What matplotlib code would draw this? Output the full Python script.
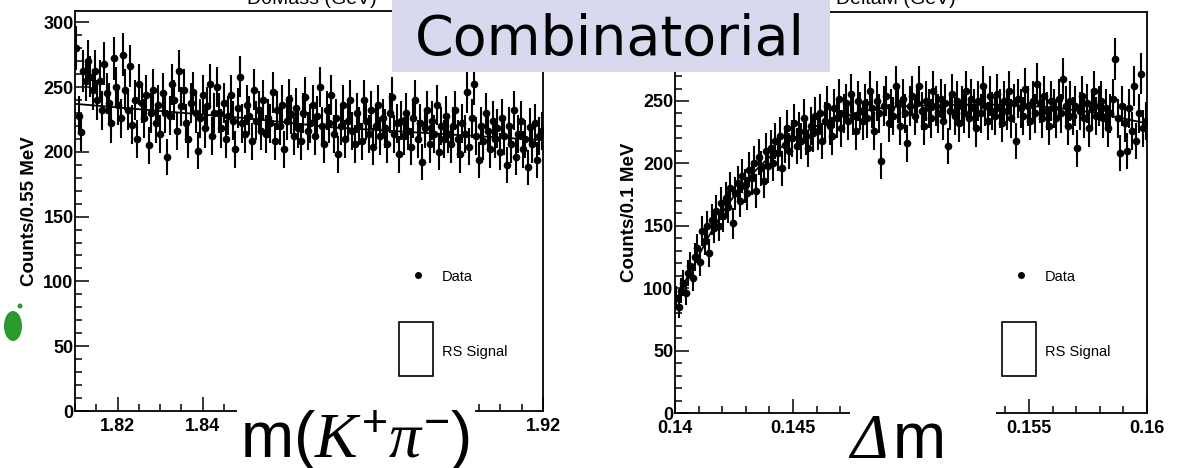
import numpy as np
import matplotlib.pyplot as plt
from matplotlib.patches import Rectangle, Ellipse
from matplotlib.ticker import MultipleLocator, FuncFormatter

plt.rcParams['font.family'] = ['Liberation Sans', 'DejaVu Sans']
plt.rcParams['mathtext.fontset'] = 'custom'
plt.rcParams['mathtext.rm'] = 'Liberation Sans'
plt.rcParams['mathtext.it'] = 'Liberation Serif:italic'

#---------------------------- D0 mass, 200 bins of 0.55 MeV ----------------------------
mass_range = (1.81, 1.92)
mass_counts = [
    280, 228, 215, 262, 255, 270, 258, 248, 262, 240, 255, 232, 268, 245, 238, 222, 272, 250, 236, 226,
    275, 248, 232, 266, 221, 240, 210, 252, 238, 226, 244, 205, 230, 248, 222, 236, 214, 245, 230, 196,
    228, 252, 240, 216, 262, 235, 248, 222, 210, 238, 246, 230, 201, 226, 244, 218, 235, 252, 212, 230,
    250, 230, 218, 238, 210, 228, 244, 224, 202, 234, 258, 222, 214, 236, 228, 208, 248, 224, 232, 216,
    240, 214, 226, 222, 246, 208, 232, 220, 236, 202, 224, 241, 229, 212, 234, 218, 208, 230, 242, 216,
    222, 236, 212, 228, 250, 220, 206, 232, 222, 244, 214, 226, 198, 220, 236, 210, 224, 240, 216, 206,
    230, 220, 208, 240, 224, 214, 232, 204, 220, 236, 212, 226, 218, 206, 230, 242, 214, 222, 198, 224,
    212, 230, 216, 204, 226, 240, 210, 222, 192, 218, 232, 206, 224, 214, 236, 200, 220, 210, 228, 214,
    206, 220, 232, 210, 198, 222, 214, 246, 204, 226, 252, 212, 194, 220, 208, 230, 216, 202, 224, 210,
    218, 200, 226, 212, 190, 220, 206, 232, 196, 214, 224, 202, 210, 188, 219, 206, 222, 194, 212, 216,
]
mass_fit_x = [1.81, 1.85, 1.87, 1.89, 1.92]
mass_fit_y = [237, 226, 219, 215, 209]
mass_xticks = [1.82, 1.84, 1.92]          # labels not hidden under the caption

#---------------------------- delta m, 200 bins of 0.1 MeV ----------------------------
dm_range = (0.14, 0.16)
dm_counts = [
    92, 85, 98, 104, 96, 112, 118, 108, 125, 132, 121, 146, 138, 150, 128, 155, 148, 162, 150, 168,
    158, 172, 165, 180, 152, 176, 184, 170, 190, 182, 176, 195, 188, 200, 178, 205, 196, 186, 210, 198,
    212, 200, 218, 208, 222, 196, 215, 228, 210, 220, 232, 214, 226, 218, 236, 222, 212, 230, 224, 238,
    226, 240, 218, 234, 246, 230, 222, 244, 236, 252, 228, 240, 248, 234, 256, 238, 226, 250, 242, 234,
    248, 236, 258, 244, 226, 250, 240, 202, 246, 254, 232, 244, 238, 262, 248, 230, 252, 240, 216, 246,
    254, 238, 248, 262, 242, 230, 250, 244, 236, 258, 246, 240, 252, 234, 248, 214, 242, 256, 238, 250,
    232, 246, 240, 258, 236, 252, 244, 228, 250, 240, 262, 246, 234, 254, 242, 238, 256, 244, 232, 250,
    242, 258, 236, 248, 218, 252, 244, 238, 260, 246, 234, 250, 240, 264, 248, 236, 254, 242, 230, 250,
    244, 236, 252, 240, 268, 246, 230, 250, 238, 246, 212, 242, 254, 236, 248, 228, 244, 258, 238, 246,
    250, 236, 244, 228, 240, 252, 284, 236, 208, 246, 232, 210, 244, 226, 262, 218, 240, 272, 228, 234,
]
dm_fit_x = [0.1400, 0.1405, 0.1410, 0.1415, 0.1420, 0.1425, 0.1430, 0.1435, 0.1440, 0.1445, 0.1450,
            0.1460, 0.1470, 0.1480, 0.1490, 0.1500, 0.1520, 0.1540, 0.1560, 0.1580, 0.1600]
dm_fit_y = [88, 108, 126, 144, 160, 174, 186, 196, 205, 213, 220,
            230, 237, 242, 245, 246, 247, 247, 245, 240, 232]
dm_xticks = [0.14, 0.145, 0.155, 0.16]

W, H = 1180, 468
fig = plt.figure(figsize=(W / 100, H / 100), dpi=100)


def px_axes(x0, y0, x1, y1, **kw):
    """axes from pixel corners (top-left origin)"""
    return fig.add_axes([x0 / W, 1 - y1 / H, (x1 - x0) / W, (y1 - y0) / H], **kw)


def shown(fmt, keep):
    # blank out tick labels that sit under the slide decorations
    return FuncFormatter(lambda v, p: fmt % v if any(abs(v - k) < 1e-9 for k in keep) else '')


def draw_panel(ax, counts, xr, fit_x, fit_y, ymax, xmaj, xmin, xfmt, xkeep, ykeep, ylabel):
    counts = np.asarray(counts, dtype=float)
    edges = np.linspace(xr[0], xr[1], len(counts) + 1)
    centers = 0.5 * (edges[:-1] + edges[1:])
    ax.errorbar(centers, counts, yerr=np.sqrt(counts), fmt='o', ms=4.5, color='black',
                elinewidth=1.5, capsize=0)
    ax.plot(fit_x, fit_y, color='black', lw=1.3)
    ax.set_xlim(*xr)
    ax.set_ylim(0, ymax)
    ax.xaxis.set_major_locator(MultipleLocator(xmaj))
    ax.xaxis.set_minor_locator(MultipleLocator(xmin))
    ax.xaxis.set_major_formatter(shown(xfmt, xkeep))
    ax.yaxis.set_major_locator(MultipleLocator(50))
    ax.yaxis.set_minor_locator(MultipleLocator(10))
    ax.yaxis.set_major_formatter(shown('%d', ykeep))
    ax.tick_params(which='both', direction='in', top=False, right=False, width=1.1, labelsize=13)
    ax.tick_params(which='major', length=10)
    ax.tick_params(which='minor', length=5)
    ax.tick_params(axis='y', pad=1)
    ax.tick_params(axis='x', pad=5)
    for lab in ax.get_xticklabels() + ax.get_yticklabels():
        lab.set_fontweight('bold')
    for s in ax.spines.values():
        s.set_linewidth(1.3)
    ax.set_ylabel(ylabel, fontsize=13.5, fontweight='bold', labelpad=4)


ax1 = px_axes(75, 11, 543, 411)
draw_panel(ax1, mass_counts, mass_range, mass_fit_x, mass_fit_y, 400 / 1.296,
           0.02, 0.005, '%.2f', mass_xticks, [0, 50, 100, 150, 200, 250, 300], 'Counts/0.55 MeV')
ax2 = px_axes(675, 12, 1147, 413)
draw_panel(ax2, dm_counts, dm_range, dm_fit_x, dm_fit_y, 401 / 1.248,
           0.005, 0.001, '%g', dm_xticks, [0, 50, 100, 150, 200, 250], 'Counts/0.1 MeV')

# overlay in pixel coordinates for the slide decorations
ov = fig.add_axes([0, 0, 1, 1], zorder=10)
ov.set_xlim(0, W)
ov.set_ylim(H, 0)
ov.axis('off')
ov.patch.set_alpha(0)

# axis titles cut off at the top edge
ov.text(312, -1, 'D0Mass (GeV)', ha='center', va='center', fontsize=14)
ov.text(896, -1, 'DeltaM (GeV)', ha='center', va='center', fontsize=14)

# legends
for lx in (0, 603):
    ov.plot(418 + lx, 275, 'o', ms=4, color='black')
    ov.text(442 + lx, 277, 'Data', fontsize=10.5, va='center')
    ov.add_patch(Rectangle((399 + lx, 322), 34, 54, fill=False, lw=1.2, ec='black'))
    ov.text(442 + lx, 352, 'RS Signal', fontsize=10.5, va='center')

# title banner
ov.add_patch(Rectangle((392, -5), 438, 77, color='#d8d8ee', lw=0))
ov.text(610, 55, 'Combinatorial', family='DejaVu Sans', fontsize=40, ha='center', va='baseline')

# big axis captions over white masks
ov.add_patch(Rectangle((237, 396), 238, 80, color='white', lw=0))
ov.add_patch(Rectangle((850, 396), 146, 80, color='white', lw=0))
ov.text(240, 457, r'm($K^{+}\pi^{-}$)', fontsize=46, va='baseline', ha='left')
ov.text(850, 458, '\u0394', family='Liberation Serif', style='italic', fontsize=46,
        va='baseline', ha='left')
ov.text(893, 458, 'm', fontsize=46, va='baseline', ha='left')

# green bullet at the left edge
ov.add_patch(Ellipse((13, 326), 18, 30, color='#2a9a2a', lw=0))
ov.add_patch(Ellipse((20, 306), 5, 5, color='#2a9a2a', lw=0))

fig.savefig('out.png', dpi=100)
